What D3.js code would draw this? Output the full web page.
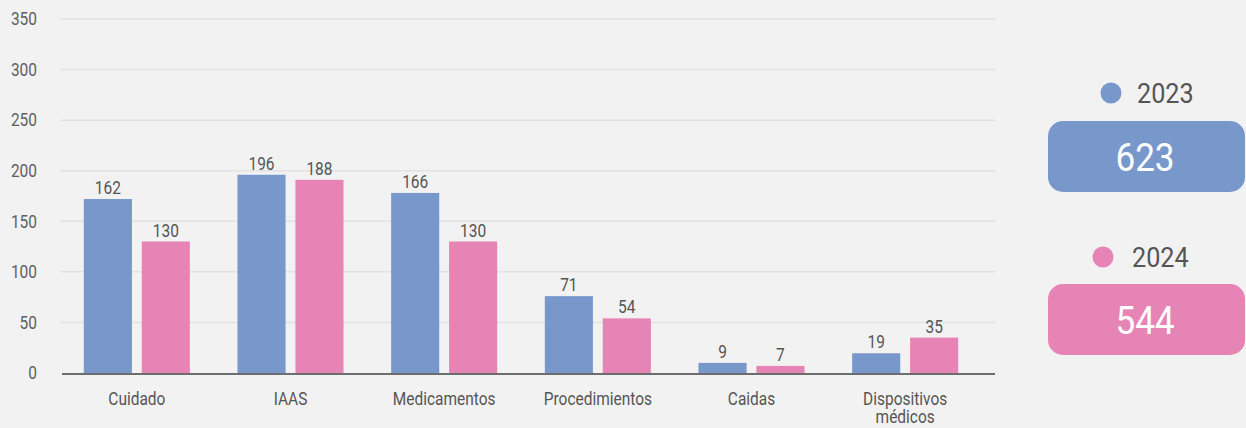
<!DOCTYPE html>
<html>
<head>
<meta charset="utf-8">
<script src="https://cdn.jsdelivr.net/npm/d3@7"></script>
<style>
  body { margin: 0; background: #f2f2f2; }
  svg { display: block; font-family: Roboto, "Noto Sans", sans-serif; }
</style>
</head>
<body>
<div id="chart"></div>
<script>
// categories and series
var categories = ['Cuidado', 'IAAS', 'Medicamentos', 'Procedimientos', 'Caidas', 'Dispositivos médicos'];
var years = ['2023', '2024'];
// bar heights as drawn in the picture
var bars2023 = [172, 196, 178, 76, 10, 19.5];
var bars2024 = [130, 191, 130, 54, 7, 35];
// printed value labels
var labels2023 = [162, 196, 166, 71, 9, 19];
var labels2024 = [130, 188, 130, 54, 7, 35];
var totals = [623, 544];
var yTicks = [0, 50, 100, 150, 200, 250, 300, 350];

var colors = {'2023': '#7898cc', '2024': '#e685b5'};
var w = 1246, h = 428;
var sx = 0.86; // condensed look

var data = categories.map(function(c, i) {
  return {cat: c, vals: [
    {year: '2023', bar: bars2023[i], label: labels2023[i]},
    {year: '2024', bar: bars2024[i], label: labels2024[i]}
  ]};
});

var svg = d3.select('#chart').append('svg')
  .attr('width', w).attr('height', h);

//Scales
var x = d3.scaleBand().domain(categories).range([60, 982])
  .paddingInner(0.31).paddingOuter(0.155);
var x1 = d3.scaleBand().domain(years).range([0, x.bandwidth()]).paddingInner(0.17);
var y = d3.scaleLinear().domain([0, 350]).range([373, 19]);

//Grid lines
svg.append('g').selectAll('line.grid')
    .data(yTicks.filter(function(d) { return d > 0; }))
  .enter().append('line')
    .attr('class', 'grid')
    .attr('x1', 60).attr('x2', 995)
    .attr('y1', function(d) { return y(d); })
    .attr('y2', function(d) { return y(d); })
    .attr('stroke', '#e2e2e2').attr('stroke-width', 1.5);

//Y tick labels
svg.append('g').selectAll('text.ytick')
    .data(yTicks)
  .enter().append('text')
    .attr('class', 'ytick')
    .attr('transform', function(d) { return 'translate(' + [37, y(d)] + ') scale(' + sx + ',1)'; })
    .attr('text-anchor', 'end')
    .attr('dy', '0.35em')
    .attr('fill', '#606060')
    .style('font-size', '18px')
    .text(function(d) { return d; });

//Bars
var group = svg.selectAll('g.cat')
    .data(data)
  .enter().append('g')
    .attr('class', 'cat')
    .attr('transform', function(d) { return 'translate(' + x(d.cat) + ',0)'; });

group.selectAll('rect')
    .data(function(d) { return d.vals; })
  .enter().append('rect')
    .attr('x', function(d) { return x1(d.year); })
    .attr('y', function(d) { return y(d.bar); })
    .attr('width', x1.bandwidth())
    .attr('height', function(d) { return y(0) - y(d.bar); })
    .attr('fill', function(d) { return colors[d.year]; });

group.selectAll('text.val')
    .data(function(d) { return d.vals; })
  .enter().append('text')
    .attr('class', 'val')
    .attr('transform', function(d) {
      return 'translate(' + [x1(d.year) + x1.bandwidth() / 2, y(d.bar) - 5] + ') scale(' + sx + ',1)';
    })
    .attr('text-anchor', 'middle')
    .attr('fill', '#555')
    .style('font-size', '18px')
    .text(function(d) { return d.label; });

//Axis line
svg.append('line')
  .attr('x1', 62).attr('x2', 995)
  .attr('y1', y(0) + 1).attr('y2', y(0) + 1)
  .attr('stroke', '#6d6d6d').attr('stroke-width', 2);

//X labels (long one wrapped on two lines)
categories.forEach(function(c) {
  var words = c === 'Dispositivos médicos' ? ['Dispositivos', 'médicos'] : [c];
  words.forEach(function(wd, i) {
    svg.append('text')
      .attr('class', 'xlab')
      .attr('transform', 'translate(' + [x(c) + x.bandwidth() / 2, 405 + i * 18] + ') scale(' + sx + ',1)')
      .attr('text-anchor', 'middle')
      .attr('fill', '#555')
      .style('font-size', '18px')
      .text(wd);
  });
});

//Legend boxes
var legY = [93, 257], boxY = [121, 284];
var circX = [1111, 1103], textX = [1137, 1132];
var leg = svg.selectAll('g.leg')
    .data(years)
  .enter().append('g')
    .attr('class', 'leg');

leg.append('rect')
  .attr('x', 1048).attr('y', function(d, i) { return boxY[i]; })
  .attr('width', 197).attr('height', 71)
  .attr('rx', 15).attr('ry', 15)
  .attr('fill', function(d) { return colors[d]; });

leg.append('text')
  .attr('transform', function(d, i) { return 'translate(' + [1145, boxY[i] + 36] + ') scale(0.9,1)'; })
  .attr('text-anchor', 'middle')
  .attr('dy', '0.36em')
  .attr('fill', '#fff')
  .style('font-size', '39px')
  .text(function(d, i) { return totals[i]; });

leg.append('circle')
  .attr('cx', function(d, i) { return circX[i]; })
  .attr('cy', function(d, i) { return legY[i]; })
  .attr('r', 10.5)
  .attr('fill', function(d) { return colors[d]; });

leg.append('text')
  .attr('transform', function(d, i) { return 'translate(' + [textX[i], legY[i]] + ') scale(0.9,1)'; })
  .attr('dy', '0.36em')
  .attr('fill', '#555')
  .style('font-size', '28px')
  .text(function(d) { return d; });
</script>
</body>
</html>
